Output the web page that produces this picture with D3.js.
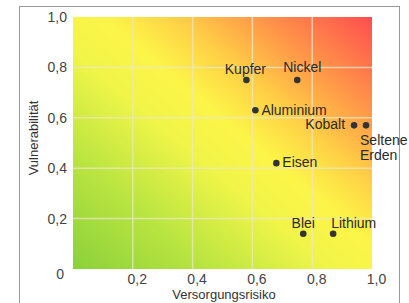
<!DOCTYPE html>
<html><head><meta charset="utf-8">
<script src="https://cdn.jsdelivr.net/npm/d3@7"></script>
<style>body{margin:0;background:#fff}svg{display:block}text{font-family:"Liberation Sans",Arial,sans-serif}</style>
</head><body><svg id="c" width="409" height="303"></svg>
<script>
const names = ["Kupfer","Nickel","Aluminium","Kobalt","Seltene Erden","Eisen","Blei","Lithium"];
const risk  = [0.58, 0.75, 0.61, 0.94, 0.98, 0.68, 0.77, 0.87];
const vuln  = [0.75, 0.75, 0.63, 0.57, 0.57, 0.42, 0.14, 0.14];
const xTicks = [0.2, 0.4, 0.6, 0.8, 1.0];
const yTicks = [0, 0.2, 0.4, 0.6, 0.8, 1.0];
const xTitle = "Versorgungsrisiko", yTitle = "Vulnerabilität";

// label placement: [anchor, dx, dy]
const place = {
  "Kupfer":["middle",-1,-6], "Nickel":["middle",5,-8], "Aluminium":["start",6,5],
  "Kobalt":["end",-9,4], "Seltene Erden":["start",-6,20], "Eisen":["start",6,4],
  "Blei":["middle",0,-6], "Lithium":["start",-2,-6]
};

const svg = d3.select("#c");
const L=73,R=372,T=17,B=269;
const x = d3.scaleLinear().domain([0,1]).range([L,R]);
const y = d3.scaleLinear().domain([0,1]).range([B,T]);
const fmt = d => d===0 ? "0" : d3.format(".1f")(d).replace(".",",");

svg.append("rect").attr("x",19.5).attr("y",6.5).attr("width",380).attr("height",320)
  .attr("fill","#fff").attr("stroke","#999");

const defs = svg.append("defs");
const g = defs.append("linearGradient").attr("id","bg").attr("x1",0).attr("y1",1).attr("x2",1).attr("y2",0);
[[0,"#8ad13a"],[0.22,"#b8e440"],[0.43,"#f0f548"],[0.55,"#fcf548"],[0.67,"#ffd046"],[0.8,"#ff9a48"],[1,"#ff4d4f"]]
  .forEach(([o,c])=>g.append("stop").attr("offset",o).attr("stop-color",c));

svg.append("rect").attr("x",x(0)).attr("y",y(1)).attr("width",x(1)-x(0)).attr("height",y(0)-y(1)).attr("fill","url(#bg)");

const grid = svg.append("g").attr("stroke","#ece6c8").attr("stroke-opacity",0.75).attr("stroke-width",1.5);
xTicks.slice(0,-1).forEach(v=>grid.append("line").attr("x1",x(v)).attr("x2",x(v)).attr("y1",y(0)).attr("y2",y(1)));
yTicks.slice(1,-1).forEach(v=>grid.append("line").attr("x1",x(0)).attr("x2",x(1)).attr("y1",y(v)).attr("y2",y(v)));

const xAxis = svg.append("g").attr("transform",`translate(4,${B})`)
  .call(d3.axisBottom(x).tickValues(xTicks).tickFormat(fmt).tickSize(0).tickPadding(5));
const yAxis = svg.append("g").attr("transform",`translate(${L},0)`)
  .call(d3.axisLeft(y).tickValues(yTicks).tickFormat(fmt).tickSize(0).tickPadding(6));
[xAxis,yAxis].forEach(a=>{a.select(".domain").remove();a.selectAll("text").attr("font-size",14).attr("fill","#444").attr("font-family","Liberation Sans, Arial, sans-serif");});
yAxis.selectAll(".tick").filter(d=>d===0).select("text").attr("dy","0.7em").attr("x",-9);

svg.append("text").attr("x",224).attr("y",299).attr("text-anchor","middle").attr("font-size",13).attr("fill","#333").text(xTitle);
svg.append("text").attr("transform","translate(38,138) rotate(-90)").attr("text-anchor","middle").attr("font-size",13).attr("fill","#333").text(yTitle);

const pts = svg.append("g");
names.forEach((n,i)=>{
  const cx=x(risk[i]), cy=y(vuln[i]);
  pts.append("circle").attr("cx",cx).attr("cy",cy).attr("r",3.3).attr("fill","#333");
  const [a,dx,dy]=place[n];
  const t = pts.append("text").attr("x",cx+dx).attr("y",cy+dy).attr("text-anchor",a).attr("font-size",14).attr("fill","#2a2a2a");
  const parts = n.split(" ");
  if(parts.length>1){
    parts.forEach((p,j)=>t.append("tspan").attr("x",cx+dx).attr("dy",j?15:0).text(p));
  } else t.text(n);
});
</script></body></html>
